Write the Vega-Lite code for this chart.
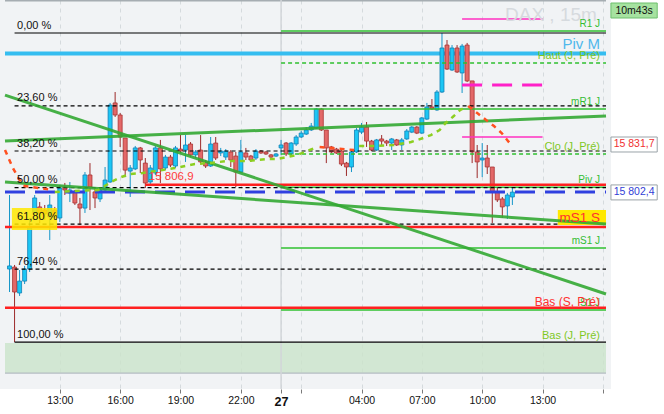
{
"$schema":"https://vega.github.io/schema/vega-lite/v6.json",
"width":611,"height":389,
"autosize":{"type":"none"},
"padding":{"left":0,"top":0,"right":53,"bottom":25},
"background":"#ffffff",
"config":{"view":{"fill":"#f1f3f5","stroke":null},"font":"Liberation Sans","axis":{"labelFont":"Liberation Sans","title":null}},
"datasets":{
"candles":[
{"t":"2023-06-26T10:30Z","o":15755.2,"h":15800.6,"l":15741.1,"c":15757.1},
{"t":"2023-06-26T10:45Z","o":15756.4,"h":15757.7,"l":15710.4,"c":15741.1},
{"t":"2023-06-26T11:00Z","o":15740.5,"h":15754.6,"l":15738.7,"c":15747.8},
{"t":"2023-06-26T11:15Z","o":15747.8,"h":15757.1,"l":15746.0,"c":15755.2},
{"t":"2023-06-26T11:30Z","o":15755.2,"h":15786.5,"l":15753.4,"c":15781.0},
{"t":"2023-06-26T11:45Z","o":15789.6,"h":15800.6,"l":15788.4,"c":15798.8},
{"t":"2023-06-26T12:00Z","o":15793.3,"h":15796.3,"l":15783.4,"c":15789.6},
{"t":"2023-06-26T12:15Z","o":15791.4,"h":15794.5,"l":15785.3,"c":15789.0},
{"t":"2023-06-26T12:30Z","o":15787.1,"h":15800.6,"l":15773.0,"c":15794.5},
{"t":"2023-06-26T12:45Z","o":15791.4,"h":15793.3,"l":15786.5,"c":15787.7},
{"t":"2023-06-26T13:00Z","o":15786.5,"h":15806.8,"l":15784.1,"c":15804.9},
{"t":"2023-06-26T13:15Z","o":15805.5,"h":15808.0,"l":15800.6,"c":15803.7},
{"t":"2023-06-26T13:30Z","o":15801.9,"h":15808.6,"l":15796.3,"c":15803.7},
{"t":"2023-06-26T13:45Z","o":15802.5,"h":15803.7,"l":15794.5,"c":15795.7},
{"t":"2023-06-26T14:00Z","o":15795.1,"h":15798.8,"l":15782.2,"c":15792.6},
{"t":"2023-06-26T14:15Z","o":15792.6,"h":15814.7,"l":15789.6,"c":15812.9},
{"t":"2023-06-26T14:30Z","o":15812.9,"h":15820.2,"l":15791.4,"c":15805.5},
{"t":"2023-06-26T14:45Z","o":15802.5,"h":15805.5,"l":15792.6,"c":15798.8},
{"t":"2023-06-26T15:00Z","o":15798.2,"h":15804.9,"l":15796.3,"c":15803.7},
{"t":"2023-06-26T15:15Z","o":15803.7,"h":15817.8,"l":15803.0,"c":15809.8},
{"t":"2023-06-26T15:30Z","o":15808.6,"h":15857.1,"l":15808.0,"c":15855.8},
{"t":"2023-06-26T15:45Z","o":15857.1,"h":15863.8,"l":15848.5,"c":15849.7},
{"t":"2023-06-26T16:00Z","o":15849.7,"h":15850.9,"l":15830.1,"c":15836.2},
{"t":"2023-06-26T16:15Z","o":15835.6,"h":15835.6,"l":15811.6,"c":15815.9},
{"t":"2023-06-26T16:30Z","o":15815.3,"h":15819.0,"l":15799.4,"c":15817.2},
{"t":"2023-06-26T16:45Z","o":15816.6,"h":15830.7,"l":15815.9,"c":15829.5},
{"t":"2023-06-26T17:00Z","o":15829.5,"h":15830.1,"l":15814.1,"c":15822.1},
{"t":"2023-06-26T17:15Z","o":15820.2,"h":15823.3,"l":15804.9,"c":15808.0},
{"t":"2023-06-26T17:30Z","o":15808.6,"h":15819.0,"l":15806.8,"c":15817.2},
{"t":"2023-06-26T17:45Z","o":15814.1,"h":15830.7,"l":15812.9,"c":15829.5},
{"t":"2023-06-26T18:00Z","o":15829.5,"h":15834.4,"l":15808.0,"c":15816.6},
{"t":"2023-06-26T18:15Z","o":15817.2,"h":15825.2,"l":15815.9,"c":15823.9},
{"t":"2023-06-26T18:30Z","o":15823.9,"h":15825.2,"l":15817.8,"c":15819.0},
{"t":"2023-06-26T18:45Z","o":15818.4,"h":15830.7,"l":15817.2,"c":15829.5},
{"t":"2023-06-26T19:00Z","o":15828.8,"h":15837.4,"l":15826.4,"c":15827.6},
{"t":"2023-06-26T19:15Z","o":15828.2,"h":15837.4,"l":15820.9,"c":15831.3},
{"t":"2023-06-26T19:30Z","o":15831.9,"h":15833.1,"l":15823.9,"c":15825.2},
{"t":"2023-06-26T19:45Z","o":15825.2,"h":15828.2,"l":15823.3,"c":15827.0},
{"t":"2023-06-26T20:00Z","o":15828.2,"h":15837.4,"l":15820.2,"c":15820.9},
{"t":"2023-06-26T20:15Z","o":15820.9,"h":15822.1,"l":15817.2,"c":15818.4},
{"t":"2023-06-26T20:30Z","o":15818.4,"h":15836.2,"l":15817.8,"c":15831.9},
{"t":"2023-06-26T20:45Z","o":15832.5,"h":15836.2,"l":15822.1,"c":15823.3},
{"t":"2023-06-26T21:00Z","o":15826.4,"h":15829.5,"l":15824.5,"c":15827.6},
{"t":"2023-06-26T21:15Z","o":15823.9,"h":15828.8,"l":15822.1,"c":15827.6},
{"t":"2023-06-26T21:30Z","o":15827.0,"h":15828.2,"l":15817.8,"c":15822.1},
{"t":"2023-06-26T21:45Z","o":15824.5,"h":15827.0,"l":15805.5,"c":15814.7},
{"t":"2023-06-26T22:00Z","o":15814.7,"h":15834.4,"l":15814.1,"c":15827.0},
{"t":"2023-06-26T22:15Z","o":15826.4,"h":15829.5,"l":15822.1,"c":15823.9},
{"t":"2023-06-26T22:30Z","o":15824.5,"h":15825.2,"l":15820.9,"c":15822.1},
{"t":"2023-06-26T22:45Z","o":15823.3,"h":15828.8,"l":15822.1,"c":15827.6},
{"t":"2023-06-26T23:00Z","o":15827.6,"h":15828.2,"l":15825.8,"c":15826.4},
{"t":"2023-06-26T23:15Z","o":15827.0,"h":15827.6,"l":15825.2,"c":15825.8},
{"t":"2023-06-26T23:30Z","o":15825.2,"h":15825.8,"l":15823.3,"c":15823.9},
{"t":"2023-06-26T23:45Z","o":15824.5,"h":15826.4,"l":15823.9,"c":15825.8},
{"t":"2023-06-27T00:00Z","o":15829.5,"h":15834.4,"l":15825.2,"c":15831.3},
{"t":"2023-06-27T00:15Z","o":15832.5,"h":15833.1,"l":15824.5,"c":15825.8},
{"t":"2023-06-27T00:30Z","o":15825.8,"h":15833.1,"l":15825.2,"c":15832.5},
{"t":"2023-06-27T00:45Z","o":15831.9,"h":15837.4,"l":15830.7,"c":15836.2},
{"t":"2023-06-27T01:00Z","o":15836.2,"h":15839.9,"l":15835.6,"c":15838.6},
{"t":"2023-06-27T01:15Z","o":15838.0,"h":15842.3,"l":15837.4,"c":15840.5},
{"t":"2023-06-27T01:30Z","o":15840.5,"h":15844.8,"l":15839.9,"c":15842.9},
{"t":"2023-06-27T01:45Z","o":15841.7,"h":15854.0,"l":15841.1,"c":15853.4},
{"t":"2023-06-27T02:00Z","o":15853.4,"h":15854.0,"l":15839.9,"c":15840.5},
{"t":"2023-06-27T02:15Z","o":15840.5,"h":15840.5,"l":15820.2,"c":15829.5},
{"t":"2023-06-27T02:30Z","o":15830.1,"h":15830.7,"l":15826.4,"c":15827.0},
{"t":"2023-06-27T02:45Z","o":15828.8,"h":15829.5,"l":15825.8,"c":15826.4},
{"t":"2023-06-27T03:00Z","o":15827.6,"h":15828.2,"l":15818.4,"c":15819.6},
{"t":"2023-06-27T03:15Z","o":15820.2,"h":15820.9,"l":15812.3,"c":15817.8},
{"t":"2023-06-27T03:30Z","o":15817.8,"h":15828.2,"l":15814.7,"c":15827.0},
{"t":"2023-06-27T03:45Z","o":15827.0,"h":15841.7,"l":15826.4,"c":15840.5},
{"t":"2023-06-27T04:00Z","o":15839.2,"h":15844.8,"l":15838.0,"c":15842.3},
{"t":"2023-06-27T04:15Z","o":15842.3,"h":15845.4,"l":15830.1,"c":15833.7},
{"t":"2023-06-27T04:30Z","o":15833.7,"h":15834.4,"l":15827.6,"c":15828.2},
{"t":"2023-06-27T04:45Z","o":15828.2,"h":15835.0,"l":15827.6,"c":15834.4},
{"t":"2023-06-27T05:00Z","o":15835.0,"h":15837.4,"l":15831.3,"c":15833.7},
{"t":"2023-06-27T05:15Z","o":15833.7,"h":15834.4,"l":15830.7,"c":15832.5},
{"t":"2023-06-27T05:30Z","o":15832.5,"h":15835.6,"l":15828.2,"c":15835.0},
{"t":"2023-06-27T05:45Z","o":15834.4,"h":15835.0,"l":15830.7,"c":15831.3},
{"t":"2023-06-27T06:00Z","o":15831.3,"h":15835.6,"l":15828.2,"c":15834.4},
{"t":"2023-06-27T06:15Z","o":15835.0,"h":15841.1,"l":15834.4,"c":15839.9},
{"t":"2023-06-27T06:30Z","o":15839.2,"h":15842.9,"l":15838.6,"c":15842.3},
{"t":"2023-06-27T06:45Z","o":15842.3,"h":15842.9,"l":15838.0,"c":15838.6},
{"t":"2023-06-27T07:00Z","o":15838.6,"h":15848.5,"l":15838.0,"c":15847.9},
{"t":"2023-06-27T07:15Z","o":15847.2,"h":15857.1,"l":15846.6,"c":15854.6},
{"t":"2023-06-27T07:30Z","o":15854.6,"h":15859.5,"l":15852.8,"c":15853.4},
{"t":"2023-06-27T07:45Z","o":15852.8,"h":15865.0,"l":15852.2,"c":15863.8},
{"t":"2023-06-27T08:00Z","o":15863.8,"h":15900.0,"l":15863.2,"c":15890.8},
{"t":"2023-06-27T08:15Z","o":15892.6,"h":15895.7,"l":15877.3,"c":15877.9},
{"t":"2023-06-27T08:30Z","o":15877.3,"h":15892.6,"l":15876.7,"c":15890.8},
{"t":"2023-06-27T08:45Z","o":15890.8,"h":15892.6,"l":15875.5,"c":15876.1},
{"t":"2023-06-27T09:00Z","o":15875.5,"h":15893.3,"l":15863.2,"c":15892.0},
{"t":"2023-06-27T09:15Z","o":15892.6,"h":15893.9,"l":15869.9,"c":15870.6},
{"t":"2023-06-27T09:30Z","o":15870.6,"h":15870.6,"l":15820.2,"c":15827.0},
{"t":"2023-06-27T09:45Z","o":15827.0,"h":15831.3,"l":15811.0,"c":15820.9},
{"t":"2023-06-27T10:00Z","o":15822.1,"h":15832.5,"l":15811.6,"c":15823.3},
{"t":"2023-06-27T10:15Z","o":15823.3,"h":15831.3,"l":15813.5,"c":15817.8},
{"t":"2023-06-27T10:30Z","o":15817.8,"h":15817.8,"l":15783.4,"c":15802.5},
{"t":"2023-06-27T10:45Z","o":15802.5,"h":15805.5,"l":15796.3,"c":15797.6},
{"t":"2023-06-27T11:00Z","o":15798.2,"h":15799.4,"l":15786.5,"c":15793.3},
{"t":"2023-06-27T11:15Z","o":15793.9,"h":15801.9,"l":15785.9,"c":15800.6},
{"t":"2023-06-27T11:30Z","o":15799.4,"h":15804.9,"l":15794.5,"c":15802.4}
],
"levels":[
{"name":"0,00 %","g":"fibSolid","t":"2023-06-26T10:45Z","t2":"2023-06-27T16:09:15Z","p":15900.0},
{"name":"100,00 %","g":"fibSolid","t":"2023-06-26T10:45Z","t2":"2023-06-27T16:09:15Z","p":15710.4},
{"name":"23,60 %","g":"fibDash","t":"2023-06-26T10:45Z","t2":"2023-06-27T16:09:15Z","p":15855.3},
{"name":"38,20 %","g":"fibDash","t":"2023-06-26T10:45Z","t2":"2023-06-27T16:09:15Z","p":15827.6},
{"name":"50,00 %","g":"fibDash","t":"2023-06-26T10:45Z","t2":"2023-06-27T16:09:15Z","p":15805.2},
{"name":"61,80 %","g":"fibDash","t":"2023-06-26T10:45Z","t2":"2023-06-27T16:09:15Z","p":15782.8},
{"name":"76,40 %","g":"fibDash","t":"2023-06-26T10:45Z","t2":"2023-06-27T16:09:15Z","p":15755.1},
{"name":"R1 J","g":"greenSolid","t":"2023-06-27T00:00Z","t2":"2023-06-27T16:09:15Z","p":15901.2},
{"name":"mR1 J","g":"greenSolid","t":"2023-06-27T00:00Z","t2":"2023-06-27T16:09:15Z","p":15853.4},
{"name":"Piv J","g":"greenSolid","t":"2023-06-27T00:00Z","t2":"2023-06-27T16:09:15Z","p":15805.4},
{"name":"mS1 J","g":"greenSolid","t":"2023-06-27T00:00Z","t2":"2023-06-27T16:09:15Z","p":15768.1},
{"name":"S1 J","g":"greenSolid","t":"2023-06-27T00:00Z","t2":"2023-06-27T16:09:15Z","p":15730.1},
{"name":"Haut (J, Pré)","g":"greenDash","t":"2023-06-27T00:00Z","t2":"2023-06-27T16:09:15Z","p":15881.6},
{"name":"Clo (J, Pré)","g":"greenDash","t":"2023-06-27T00:00Z","t2":"2023-06-27T16:09:15Z","p":15825.8},
{"name":"15 806,9","g":"red","t":"2023-06-26T17:15Z","t2":"2023-06-27T16:09:15Z","p":15806.9},
{"name":"mS1 S","g":"red","t":"2023-06-26T10:16:30Z","t2":"2023-06-27T16:09:15Z","p":15781.0},
{"name":"Bas (S, Pré)","g":"red","t":"2023-06-26T10:16:30Z","t2":"2023-06-27T16:09:15Z","p":15731.5},
{"name":"Piv M","g":"sky","t":"2023-06-26T10:16:30Z","t2":"2023-06-27T16:09:15Z","p":15887.4},
{"name":"Dernier","g":"blueDash","t":"2023-06-26T10:16:30Z","t2":"2023-06-27T16:09:15Z","p":15802.4},
{"name":"Haut ouverture","g":"magSolid","t":"2023-06-27T09:00Z","t2":"2023-06-27T13:00Z","p":15908.6},
{"name":"Bas ouverture","g":"magSolid","t":"2023-06-27T09:00Z","t2":"2023-06-27T13:00Z","p":15836.2},
{"name":"Milieu ouverture","g":"magDash","t":"2023-06-27T09:00Z","t2":"2023-06-27T13:00Z","p":15868.1}
],
"frame":[
{"g":"zone","t":"2023-06-26T10:16:30Z","t2":"2023-06-27T16:09:15Z","p":15691.4,"p2":15709.8},
{"g":"zoneEdge","t":"2023-06-26T10:16:30Z","t2":"2023-06-27T16:09:15Z","p":15691.4},
{"g":"top","t":"2023-06-26T10:16:30Z","t2":"2023-06-27T16:09:15Z","p":15920.0},
{"g":"sep","t":"2023-06-27T00:00Z","p":15681.6,"p2":15920.25}
],
"trends":[
{"name":"haussière","t":"2023-06-26T10:16:30Z","p":15833.7,"t2":"2023-06-27T16:09:15Z","p2":15849.1},
{"name":"baissière 1","t":"2023-06-26T10:16:30Z","p":15861.9,"t2":"2023-06-27T16:09:15Z","p2":15739.9},
{"name":"baissière 2","t":"2023-06-26T10:16:30Z","p":15808.6,"t2":"2023-06-27T16:09:15Z","p2":15782.8}
],
"st":[
{"seg":"a","g":"down","t":"2023-06-26T10:16:30Z","p":15828.2},
{"seg":"a","g":"down","t":"2023-06-26T10:40Z","p":15817.2},
{"seg":"a","g":"down","t":"2023-06-26T11:00Z","p":15809.8},
{"seg":"a","g":"down","t":"2023-06-26T11:15Z","p":15806.1},
{"seg":"a","g":"down","t":"2023-06-26T12:40Z","p":15803.7},
{"seg":"b","g":"up","t":"2023-06-26T12:45Z","p":15802.5},
{"seg":"b","g":"up","t":"2023-06-26T14:55Z","p":15803.7},
{"seg":"b","g":"up","t":"2023-06-26T15:33Z","p":15808.6},
{"seg":"b","g":"up","t":"2023-06-26T16:03Z","p":15811.6},
{"seg":"b","g":"up","t":"2023-06-26T16:32Z","p":15813.5},
{"seg":"b","g":"up","t":"2023-06-26T17:07Z","p":15814.1},
{"seg":"b","g":"up","t":"2023-06-26T18:44Z","p":15817.2},
{"seg":"b","g":"up","t":"2023-06-26T19:43Z","p":15819.6},
{"seg":"b","g":"up","t":"2023-06-26T20:24Z","p":15820.2},
{"seg":"b","g":"up","t":"2023-06-26T21:23Z","p":15821.5},
{"seg":"b","g":"up","t":"2023-06-26T22:15Z","p":15821.5},
{"seg":"b","g":"up","t":"2023-06-26T22:51Z","p":15822.1},
{"seg":"b","g":"up","t":"2023-06-26T23:20Z","p":15822.7},
{"seg":"b","g":"up","t":"2023-06-26T23:49Z","p":15822.7},
{"seg":"b","g":"up","t":"2023-06-27T00:19Z","p":15823.9},
{"seg":"b","g":"up","t":"2023-06-27T00:48Z","p":15825.2},
{"seg":"b","g":"up","t":"2023-06-27T01:11Z","p":15827.0},
{"seg":"b","g":"up","t":"2023-06-27T01:41Z","p":15829.5},
{"seg":"c","g":"down","t":"2023-06-27T01:55Z","p":15830.1},
{"seg":"c","g":"down","t":"2023-06-27T03:38Z","p":15828.2},
{"seg":"d","g":"up","t":"2023-06-27T03:53Z","p":15830.7},
{"seg":"d","g":"up","t":"2023-06-27T04:37Z","p":15830.7},
{"seg":"d","g":"up","t":"2023-06-27T05:36Z","p":15831.3},
{"seg":"d","g":"up","t":"2023-06-27T06:28Z","p":15833.1},
{"seg":"d","g":"up","t":"2023-06-27T07:04Z","p":15835.6},
{"seg":"d","g":"up","t":"2023-06-27T07:27Z","p":15837.4},
{"seg":"d","g":"up","t":"2023-06-27T07:53Z","p":15840.5},
{"seg":"d","g":"up","t":"2023-06-27T08:11Z","p":15844.8},
{"seg":"d","g":"up","t":"2023-06-27T08:32Z","p":15848.5},
{"seg":"d","g":"up","t":"2023-06-27T08:55Z","p":15852.8},
{"seg":"d","g":"up","t":"2023-06-27T09:16Z","p":15855.2},
{"seg":"e","g":"down","t":"2023-06-27T09:18Z","p":15855.2},
{"seg":"e","g":"down","t":"2023-06-27T09:45Z","p":15850.9},
{"seg":"e","g":"down","t":"2023-06-27T10:08Z","p":15847.2},
{"seg":"e","g":"down","t":"2023-06-27T10:35Z","p":15842.9},
{"seg":"e","g":"down","t":"2023-06-27T10:58Z","p":15838.6},
{"seg":"e","g":"down","t":"2023-06-27T11:25Z","p":15831.7}
],
"boxes":[
{"g":"fibHi","t":"2023-06-26T10:37Z","t2":"2023-06-26T12:52Z","p":15779.2,"p2":15792.6},
{"g":"ms1sBox","t":"2023-06-27T13:45:30Z","t2":"2023-06-27T16:09:15Z","p":15782.2,"p2":15791.4},
{"g":"axisBox","t":"2023-06-27T16:24Z","t2":"2023-06-27T18:42Z","p":15827.0,"p2":15836.2},
{"g":"axisBox","t":"2023-06-27T16:24Z","t2":"2023-06-27T18:42Z","p":15797.6,"p2":15806.8},
{"g":"timerBox","t":"2023-06-27T16:24Z","t2":"2023-06-27T18:42Z","p":15909.2,"p2":15918.4}
],
"labels":[
{"g":"green","label":"R1 J","t":"2023-06-27T16:09:15Z","p":15901.2},
{"g":"green","label":"mR1 J","t":"2023-06-27T16:09:15Z","p":15853.4},
{"g":"green","label":"Piv J","t":"2023-06-27T16:09:15Z","p":15805.4},
{"g":"green","label":"mS1 J","t":"2023-06-27T16:09:15Z","p":15768.1},
{"g":"green","label":"S1 J","t":"2023-06-27T16:09:15Z","p":15730.1},
{"g":"lime","label":"Haut (J, Pré)","t":"2023-06-27T16:09:15Z","p":15881.6},
{"g":"lime","label":"Clo (J, Pré)","t":"2023-06-27T16:09:15Z","p":15825.8},
{"g":"lime","label":"Bas (J, Pré)","t":"2023-06-27T16:09:15Z","p":15710.4},
{"g":"pivm","label":"Piv M","t":"2023-06-27T16:09:15Z","p":15887.4},
{"g":"redlab","label":"Bas (S, Pré)","t":"2023-06-27T16:09:15Z","p":15731.5},
{"g":"ms1s","label":"mS1 S","t":"2023-06-27T16:09:15Z","p":15786.8},
{"g":"fib","label":"0,00 %","t":"2023-06-26T10:45Z","p":15900.0},
{"g":"fib","label":"23,60 %","t":"2023-06-26T10:45Z","p":15855.3},
{"g":"fib","label":"38,20 %","t":"2023-06-26T10:45Z","p":15827.6},
{"g":"fib","label":"50,00 %","t":"2023-06-26T10:45Z","p":15805.2},
{"g":"fib","label":"61,80 %","t":"2023-06-26T10:45Z","p":15782.8},
{"g":"fib","label":"76,40 %","t":"2023-06-26T10:45Z","p":15755.1},
{"g":"fib","label":"100,00 %","t":"2023-06-26T10:45Z","p":15710.4},
{"g":"low","label":"15 806,9","t":"2023-06-26T17:15Z","p":15806.9},
{"g":"wm","label":"DAX , 15m","t":"2023-06-27T13:25Z","p":15911.0},
{"g":"axisRed","label":"15 831,7","t":"2023-06-27T17:33Z","p":15831.6},
{"g":"axisBlue","label":"15 802,4","t":"2023-06-27T17:33Z","p":15802.2},
{"g":"timer","label":"10m43s","t":"2023-06-27T17:33Z","p":15913.8}
]
},
"encoding":{
"x":{"field":"t","type":"temporal",
 "scale":{"type":"utc","domain":[{"year":2023,"month":6,"date":26,"hours":10,"minutes":16,"seconds":30,"utc":true},{"year":2023,"month":6,"date":27,"hours":16,"minutes":9,"seconds":15,"utc":true}]},
 "axis":{"values":[
  {"year":2023,"month":6,"date":26,"hours":10,"utc":true},
  {"year":2023,"month":6,"date":26,"hours":13,"utc":true},
  {"year":2023,"month":6,"date":26,"hours":16,"utc":true},
  {"year":2023,"month":6,"date":26,"hours":19,"utc":true},
  {"year":2023,"month":6,"date":26,"hours":22,"utc":true},
  {"year":2023,"month":6,"date":27,"hours":0,"utc":true},
  {"year":2023,"month":6,"date":27,"hours":1,"utc":true},
  {"year":2023,"month":6,"date":27,"hours":4,"utc":true},
  {"year":2023,"month":6,"date":27,"hours":7,"utc":true},
  {"year":2023,"month":6,"date":27,"hours":10,"utc":true},
  {"year":2023,"month":6,"date":27,"hours":13,"utc":true},
  {"year":2023,"month":6,"date":27,"hours":16,"utc":true}],
  "labelExpr":"utchours(datum.value)==0 ? '27' : (utchours(datum.value)==1 || (utchours(datum.value)==16 && utcdate(datum.value)==27)) ? '' : utcFormat(datum.value, '%H:%M')",
  "labelFontWeight":{"condition":{"test":"utchours(datum.value)==0","value":"bold"},"value":"normal"},
  "labelFontSize":{"condition":{"test":"utchours(datum.value)==0","value":12.5},"value":10.5},
  "domain":false,"tickSize":4,"tickColor":"#7a7a7a","labelPadding":2,"labelColor":"#111111",
  "grid":true,"gridColor":"#d5dadd","gridDash":[4,4],"labelFlush":false,"labelOverlap":false,"labelBound":false}},
"y":{"field":"p","type":"quantitative",
 "scale":{"domain":[15681.6,15920.25],"nice":false,"zero":false},
 "axis":{"orient":"right","values":[15720,15740,15760,15780,15800,15820,15840,15860,15880,15900],
  "labelExpr":"datum.value == 15800 ? '' : replace(format(datum.value, ',d'), ',', ' ')",
  "labelFontWeight":{"condition":{"test":"datum.value == 15900","value":"bold"},"value":"normal"},
  "labelFontSize":{"condition":{"test":"datum.value == 15900","value":12},"value":11},
  "tickSize":5,"tickColor":"#444444","domainColor":"#8e999f","labelPadding":3,"labelColor":"#111111",
  "grid":true,"gridColor":"#d5dadd","gridDash":[4,4],"labelAlign":"left"}}
},
"layer":[
{"data":{"name":"frame","format":{"parse":{"t":"date","t2":"date"}}},"transform":[{"filter":"datum.g=='zone'"}],
 "mark":{"type":"rect","fill":"#cbe4cb","opacity":0.8},"encoding":{"x2":{"field":"t2"},"y2":{"field":"p2"}}},
{"data":{"name":"frame","format":{"parse":{"t":"date","t2":"date"}}},"transform":[{"filter":"datum.g=='zoneEdge'"}],
 "mark":{"type":"rule","color":"#b3bcc2","strokeWidth":1.2},"encoding":{"x2":{"field":"t2"}}},
{"data":{"name":"frame","format":{"parse":{"t":"date","t2":"date"}}},"transform":[{"filter":"datum.g=='top'"}],
 "mark":{"type":"rule","color":"#a6adb2","strokeWidth":2},"encoding":{"x2":{"field":"t2"}}},
{"data":{"name":"frame","format":{"parse":{"t":"date"}}},"transform":[{"filter":"datum.g=='sep'"}],
 "mark":{"type":"rule","color":"#d2d6d9","strokeWidth":1.5},"encoding":{"y2":{"field":"p2"}}},
{"data":{"name":"levels","format":{"parse":{"t":"date","t2":"date"}}},"transform":[{"filter":"datum.g=='sky'"}],
 "mark":{"type":"rule","color":"#35bdf0","strokeWidth":4},"encoding":{"x2":{"field":"t2"}}},
{"data":{"name":"candles","format":{"parse":{"t":"date"}}},
 "mark":{"type":"rule","strokeWidth":1},
 "encoding":{"y":{"field":"l","type":"quantitative","axis":null,"scale":{"domain":[15681.6,15920.25],"nice":false,"zero":false}},"y2":{"field":"h"},
  "color":{"condition":{"test":"datum.c >= datum.o","value":"#1596c9"},"value":"#9c2a2a"}}},
{"data":{"name":"candles","format":{"parse":{"t":"date"}}},
 "mark":{"type":"bar","size":4,"strokeWidth":0.8},
 "encoding":{"y":{"field":"o","type":"quantitative","axis":null,"scale":{"domain":[15681.6,15920.25],"nice":false,"zero":false}},"y2":{"field":"c"},
  "fill":{"condition":{"test":"datum.c >= datum.o","value":"#1cc6f4"},"value":"#e36868"},
  "stroke":{"condition":{"test":"datum.c >= datum.o","value":"#1380b5"},"value":"#a93434"}}},
{"data":{"name":"levels","format":{"parse":{"t":"date","t2":"date"}}},"transform":[{"filter":"datum.g=='greenSolid'"}],
 "mark":{"type":"rule","color":"#2fc02f","strokeWidth":1.4},"encoding":{"x2":{"field":"t2"}}},
{"data":{"name":"levels","format":{"parse":{"t":"date","t2":"date"}}},"transform":[{"filter":"datum.g=='greenDash'"}],
 "mark":{"type":"rule","color":"#2fc02f","strokeWidth":1.4,"strokeDash":[4,3]},"encoding":{"x2":{"field":"t2"}}},
{"data":{"name":"levels","format":{"parse":{"t":"date","t2":"date"}}},"transform":[{"filter":"datum.g=='red'"}],
 "mark":{"type":"rule","color":"#ff2020","strokeWidth":2.5},"encoding":{"x2":{"field":"t2"}}},
{"data":{"name":"levels","format":{"parse":{"t":"date","t2":"date"}}},"transform":[{"filter":"datum.g=='fibSolid'"}],
 "mark":{"type":"rule","color":"#000000","strokeWidth":1.2},"encoding":{"x2":{"field":"t2"}}},
{"data":{"name":"levels","format":{"parse":{"t":"date","t2":"date"}}},"transform":[{"filter":"datum.g=='fibDash'"}],
 "mark":{"type":"rule","color":"#000000","strokeWidth":1.2,"strokeDash":[4,3]},"encoding":{"x2":{"field":"t2"}}},
{"data":{"name":"levels","format":{"parse":{"t":"date","t2":"date"}}},"transform":[{"filter":"datum.g=='blueDash'"}],
 "mark":{"type":"rule","color":"#3040e0","strokeWidth":3,"strokeDash":[20,10]},"encoding":{"x2":{"field":"t2"}}},
{"data":{"name":"levels","format":{"parse":{"t":"date","t2":"date"}}},"transform":[{"filter":"datum.g=='magSolid'"}],
 "mark":{"type":"rule","color":"#ff30c0","strokeWidth":1.3},"encoding":{"x2":{"field":"t2"}}},
{"data":{"name":"levels","format":{"parse":{"t":"date","t2":"date"}}},"transform":[{"filter":"datum.g=='magDash'"}],
 "mark":{"type":"rule","color":"#ff20c8","strokeWidth":3,"strokeDash":[20,10]},"encoding":{"x2":{"field":"t2"}}},
{"data":{"name":"boxes","format":{"parse":{"t":"date","t2":"date"}}},"transform":[{"filter":"datum.g=='ms1sBox'"}],
 "mark":{"type":"rect","fill":"#ffe800"},"encoding":{"x2":{"field":"t2"},"y2":{"field":"p2"}}},
{"data":{"name":"boxes","format":{"parse":{"t":"date","t2":"date"}}},"transform":[{"filter":"datum.g=='fibHi'"}],
 "mark":{"type":"rect","fill":"#ffe800","opacity":0.85},"encoding":{"x2":{"field":"t2"},"y2":{"field":"p2"}}},
{"data":{"name":"trends","format":{"parse":{"t":"date","t2":"date"}}},
 "mark":{"type":"rule","color":"#33a833","strokeWidth":3,"opacity":0.9},"encoding":{"x2":{"field":"t2"},"y2":{"field":"p2"}}},
{"data":{"name":"st","format":{"parse":{"t":"date"}}},"transform":[{"filter":"datum.g=='up'"}],
 "mark":{"type":"line","color":"#8ccf20","strokeWidth":2.5,"strokeDash":[5,5]},"encoding":{"detail":{"field":"seg"}}},
{"data":{"name":"st","format":{"parse":{"t":"date"}}},"transform":[{"filter":"datum.g=='down'"}],
 "mark":{"type":"line","color":"#ff5020","strokeWidth":2.5,"strokeDash":[5,5]},"encoding":{"detail":{"field":"seg"}}},
{"data":{"name":"labels","format":{"parse":{"t":"date"}}},"transform":[{"filter":"datum.g=='wm'"}],
 "mark":{"type":"text","font":"Liberation Sans","fontSize":19,"color":"#d6dade","align":"center","baseline":"middle"},"encoding":{"text":{"field":"label"}}},
{"data":{"name":"labels","format":{"parse":{"t":"date"}}},"transform":[{"filter":"datum.g=='green'"}],
 "mark":{"type":"text","font":"Liberation Sans","fontSize":10,"color":"#33bd33","align":"right","baseline":"middle","dx":-6,"dy":-7},"encoding":{"text":{"field":"label"}}},
{"data":{"name":"labels","format":{"parse":{"t":"date"}}},"transform":[{"filter":"datum.g=='lime'"}],
 "mark":{"type":"text","font":"Liberation Sans","fontSize":11,"color":"#80c81e","align":"right","baseline":"middle","dx":-6,"dy":-6.5},"encoding":{"text":{"field":"label"}}},
{"data":{"name":"labels","format":{"parse":{"t":"date"}}},"transform":[{"filter":"datum.g=='pivm'"}],
 "mark":{"type":"text","font":"Liberation Sans","fontSize":15,"color":"#4fb8ec","align":"right","baseline":"middle","dx":-6,"dy":-10},"encoding":{"text":{"field":"label"}}},
{"data":{"name":"labels","format":{"parse":{"t":"date"}}},"transform":[{"filter":"datum.g=='redlab'"}],
 "mark":{"type":"text","font":"Liberation Sans","fontSize":12,"color":"#ff3030","align":"right","baseline":"middle","dx":-6,"dy":-6},"encoding":{"text":{"field":"label"}}},
{"data":{"name":"labels","format":{"parse":{"t":"date"}}},"transform":[{"filter":"datum.g=='ms1s'"}],
 "mark":{"type":"text","font":"Liberation Sans","fontSize":13.5,"color":"#ff3030","align":"right","baseline":"middle","dx":-6},"encoding":{"text":{"field":"label"}}},
{"data":{"name":"labels","format":{"parse":{"t":"date"}}},"transform":[{"filter":"datum.g=='fib'"}],
 "mark":{"type":"text","font":"Liberation Sans","fontSize":11,"color":"#111111","align":"left","baseline":"middle","dx":2.5,"dy":-7.5},"encoding":{"text":{"field":"label"}}},
{"data":{"name":"labels","format":{"parse":{"t":"date"}}},"transform":[{"filter":"datum.g=='low'"}],
 "mark":{"type":"text","font":"Liberation Sans","fontSize":11.5,"color":"#ff3b3b","align":"left","baseline":"middle","dx":3.5,"dy":-7.5},"encoding":{"text":{"field":"label"}}},
{"data":{"name":"boxes","format":{"parse":{"t":"date","t2":"date"}}},"transform":[{"filter":"datum.g=='axisBox'"}],
 "mark":{"type":"rect","fill":"#ffffff","stroke":"#9aa3a8","strokeWidth":1},"encoding":{"x2":{"field":"t2"},"y2":{"field":"p2"}}},
{"data":{"name":"boxes","format":{"parse":{"t":"date","t2":"date"}}},"transform":[{"filter":"datum.g=='timerBox'"}],
 "mark":{"type":"rect","fill":"#a6e2a0","stroke":"#6cbf6c","strokeWidth":1},"encoding":{"x2":{"field":"t2"},"y2":{"field":"p2"}}},
{"data":{"name":"labels","format":{"parse":{"t":"date"}}},"transform":[{"filter":"datum.g=='axisRed'"}],
 "mark":{"type":"text","font":"Liberation Sans","fontSize":10.5,"color":"#f03030","align":"center","baseline":"middle"},"encoding":{"text":{"field":"label"}}},
{"data":{"name":"labels","format":{"parse":{"t":"date"}}},"transform":[{"filter":"datum.g=='axisBlue'"}],
 "mark":{"type":"text","font":"Liberation Sans","fontSize":10.5,"color":"#3140d6","align":"center","baseline":"middle"},"encoding":{"text":{"field":"label"}}},
{"data":{"name":"labels","format":{"parse":{"t":"date"}}},"transform":[{"filter":"datum.g=='timer'"}],
 "mark":{"type":"text","font":"Liberation Sans","fontSize":10.5,"color":"#111111","align":"center","baseline":"middle"},"encoding":{"text":{"field":"label"}}}
]
}
